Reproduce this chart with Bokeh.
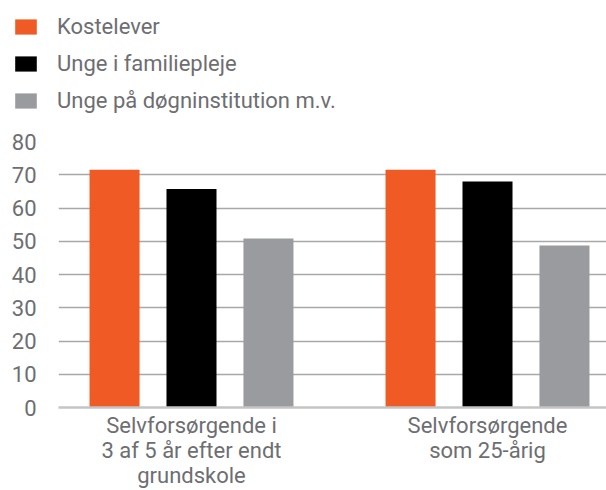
from bokeh.plotting import figure
from bokeh.layouts import column
from bokeh.models import Range1d, FixedTicker, Legend, LegendItem, ColumnDataSource
from bokeh.embed import file_html
from bokeh.resources import INLINE

categories = ["Selvforsørgende i\n3 af 5 år efter endt\ngrundskole", "Selvforsørgende\nsom 25-årig"]
series_names = ["Kostelever", "Unge i familiepleje", "Unge på døgninstitution m.v."]
kostelever = [71.5, 71.5]
familiepleje = [65.7, 68.0]
dognistitution = [50.8, 48.7]
y_ticks = [0, 10, 20, 30, 40, 50, 60, 70, 80]

colors = ["#F05A24", "#000000", "#9A9B9F"]
offsets = [-0.26, 0.0, 0.26]
bar_w = 0.169
text_color = "#6D6E71"
FONT = "Roboto"

cat_x = [i + 0.5 for i in range(len(categories))]
series = [kostelever, familiepleje, dognistitution]
sources = [ColumnDataSource(dict(x=[c + off for c in cat_x], top=vals))
           for vals, off in zip(series, offsets)]

# ---- legend strip on top (its bars lie far outside its visible range) ----
lg = figure(width=606, height=120, output_backend="svg", toolbar_location=None,
            x_range=Range1d(1000, 1606), y_range=Range1d(1000, 1120),
            x_axis_location=None, y_axis_location=None,
            min_border=0, min_border_left=0, min_border_right=0,
            min_border_top=0, min_border_bottom=0)
lg.frame_align = False
lg.outline_line_color = None
lg.background_fill_color = None
lg.border_fill_color = None
lg.xgrid.visible = False
lg.ygrid.visible = False
lg_rs = [lg.vbar(x="x", top="top", bottom=0, width=bar_w, source=s, fill_color=c, line_color=None)
         for s, c in zip(sources, colors)]
legend = Legend(items=[LegendItem(label=n, renderers=[r]) for n, r in zip(series_names, lg_rs)],
                location=(12, 7), orientation="vertical",
                glyph_width=27, glyph_height=19, label_standoff=18,
                label_height=25, spacing=12, padding=0, margin=0,
                label_text_font=FONT, label_text_font_size="22px",
                label_text_color=text_color,
                background_fill_alpha=0, border_line_alpha=0)
lg.add_layout(legend)

# ---- main chart ----
p = figure(width=606, height=370, output_backend="svg", toolbar_location=None,
           x_range=Range1d(0.0507, 1.9020), y_range=Range1d(0, 80),
           min_border_left=58, min_border_right=0, min_border_top=21, min_border_bottom=82)
p.frame_align = False
p.outline_line_color = None
p.background_fill_color = None
p.border_fill_color = None

for s, col in zip(sources, colors):
    p.vbar(x="x", top="top", bottom=0, width=bar_w, source=s,
           fill_color=col, line_color=None)

# y axis
p.yaxis.ticker = FixedTicker(ticks=y_ticks)
p.yaxis.axis_line_color = None
p.yaxis.major_tick_line_color = None
p.yaxis.minor_tick_line_color = None
p.yaxis.major_tick_in = 0
p.yaxis.major_tick_out = 0
p.yaxis.major_label_standoff = 22
p.yaxis.major_label_text_font = FONT
p.yaxis.major_label_text_font_size = "22px"
p.yaxis.major_label_text_color = text_color

# x axis
p.xaxis.ticker = FixedTicker(ticks=cat_x)
p.xaxis.major_label_overrides = {cx: lab for cx, lab in zip(cat_x, categories)}
p.xaxis.axis_line_color = "#C4C4C4"
p.xaxis.axis_line_width = 2.5
p.xaxis.major_tick_line_color = None
p.xaxis.minor_tick_line_color = None
p.xaxis.major_tick_in = 0
p.xaxis.major_tick_out = 0
p.xaxis.major_label_standoff = 5
p.xaxis.major_label_text_font = FONT
p.xaxis.major_label_text_font_size = "22px"
p.xaxis.major_label_text_color = text_color
p.xaxis.major_label_text_line_height = 1.0

p.xgrid.grid_line_color = None
p.ygrid.grid_line_color = "#A8A8A8"
p.ygrid.grid_line_width = 1.5
p.ygrid.ticker = FixedTicker(ticks=y_ticks[1:])

layout = column(lg, p, spacing=0)
open("out.html", "w").write(file_html(layout, INLINE))
